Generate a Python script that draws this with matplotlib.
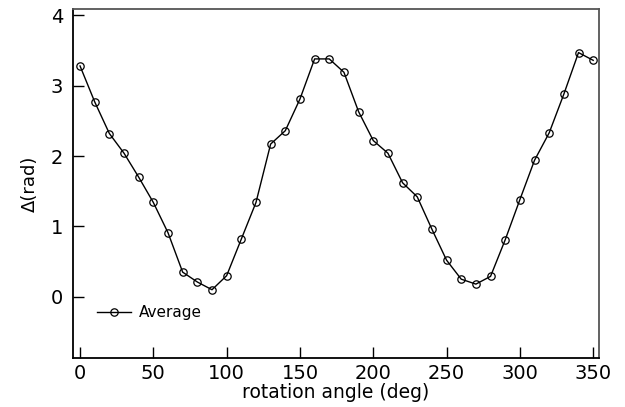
import numpy as np
import matplotlib
matplotlib.use("Agg")
from matplotlib import pyplot as plt

plt.rcParams["font.family"] = ["DejaVu Sans"]

# rotation angle (deg) and average retardance (rad)
angle = [0, 10, 20, 30, 40, 50, 60, 70, 80, 90, 100, 110, 120, 130, 140, 150,
         160, 170, 180, 190, 200, 210, 220, 230, 240, 250, 260, 270, 280, 290,
         300, 310, 320, 330, 340, 350]
delta = [3.28, 2.77, 2.32, 2.04, 1.70, 1.34, 0.91, 0.35, 0.21, 0.10, 0.30, 0.82,
         1.34, 2.17, 2.36, 2.81, 3.38, 3.38, 3.19, 2.63, 2.22, 2.04, 1.62, 1.42,
         0.96, 0.52, 0.25, 0.18, 0.29, 0.81, 1.38, 1.94, 2.33, 2.88, 3.47, 3.36]
xticks = [0, 50, 100, 150, 200, 250, 300, 350]
yticks = [0, 1, 2, 3, 4]

fig = plt.figure(figsize=(6.25, 4.07), dpi=100)
ax = fig.add_axes([0.1168, 0.1204, 0.8412, 0.8576])

ax.plot(angle, delta, color="black", linewidth=1.0, marker="o",
        markersize=5.3, markerfacecolor="none", markeredgecolor="black",
        markeredgewidth=0.9, label="Average")

ax.set_xlim(-4.8, 353.8)
ax.set_ylim(-0.87, 4.09)
ax.set_xticks(xticks)
ax.set_yticks(yticks)
ax.tick_params(axis="both", direction="in", length=8, width=1.0,
               labelsize=14, colors="black")
ax.tick_params(axis="x", pad=4)
ax.tick_params(axis="y", pad=7)

for side in ["left", "bottom"]:
    ax.spines[side].set_color("black")
    ax.spines[side].set_linewidth(1.3)
for side in ["top", "right"]:
    ax.spines[side].set_color("#555555")
    ax.spines[side].set_linewidth(1.3)

ax.set_xlabel("rotation angle (deg)", fontsize=13.5, labelpad=0)
ax.set_ylabel("Δ(rad)", fontsize=13, labelpad=9)

ax.legend(loc="center left", bbox_to_anchor=(0.02, 0.13), frameon=False,
          fontsize=11, handlelength=2.2, handletextpad=0.5)

fig.savefig("out.png", dpi=100)
